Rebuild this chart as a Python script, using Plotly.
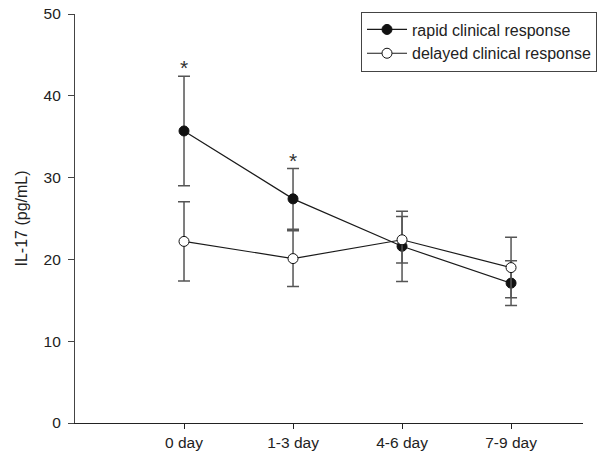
import plotly.graph_objects as go

categories = ["0 day", "1-3 day", "4-6 day", "7-9 day"]
x_pos = [1, 2, 3, 4]
rapid_mean = [35.7, 27.4, 21.6, 17.1]
rapid_err = [6.7, 3.7, 4.3, 2.75]
delayed_mean = [22.2, 20.1, 22.4, 19.0]
delayed_err = [4.85, 3.4, 2.85, 3.7]
star_idx = [0, 1]

FONT = "Liberation Sans, Arial, sans-serif"

fig = go.Figure()
fig.add_trace(go.Scatter(
    x=x_pos, y=rapid_mean, mode="lines+markers", name="rapid clinical response",
    line=dict(color="#1a1a1a", width=1.2),
    marker=dict(symbol="circle", size=10, color="#111111", line=dict(color="#111111", width=1)),
    error_y=dict(type="data", array=rapid_err, visible=True, color="#555555", thickness=1.5, width=6),
))
fig.add_trace(go.Scatter(
    x=x_pos, y=delayed_mean, mode="lines+markers", name="delayed clinical response",
    line=dict(color="#1a1a1a", width=1.2),
    marker=dict(symbol="circle", size=10, color="white", line=dict(color="#111111", width=1)),
    error_y=dict(type="data", array=delayed_err, visible=True, color="#555555", thickness=1.5, width=6),
))

for i in star_idx:
    fig.add_annotation(x=x_pos[i], y=rapid_mean[i] + rapid_err[i], text="*", showarrow=False,
                       yanchor="bottom", yshift=-5, font=dict(size=21, color="#333333", family=FONT))

fig.update_layout(
    width=603, height=457,
    margin=dict(l=75, r=20, t=14, b=34, autoexpand=False),
    paper_bgcolor="white", plot_bgcolor="white",
    font=dict(family=FONT, size=15, color="#222222"),
    showlegend=True,
    legend=dict(x=0.563, y=1.006, xanchor="left", yanchor="top",
                bordercolor="#444444", borderwidth=1, bgcolor="white",
                font=dict(size=16), tracegroupgap=0, itemwidth=40),
    xaxis=dict(range=[0, 4.66], tickvals=x_pos, ticktext=categories, showgrid=False,
               zeroline=False, showline=True, linecolor="#222222", linewidth=1.2,
               ticks="outside", ticklen=5, tickcolor="#222222", tickfont=dict(size=15.5),
               automargin=False),
    yaxis=dict(range=[0, 50], tickvals=[0, 10, 20, 30, 40, 50], showgrid=False,
               zeroline=False, showline=True, linecolor="#444444", linewidth=1.2,
               ticks="outside", ticklen=6, tickcolor="#444444", tickfont=dict(size=15.5),
               ticklabelstandoff=4, automargin=False,
               title=dict(text="IL-17 (pg/mL)", font=dict(size=16), standoff=11)),
)

fig.write_html("out.html", config={"displayModeBar": False},
               post_script="document.body.style.margin='0px';document.body.style.overflow='hidden';")
